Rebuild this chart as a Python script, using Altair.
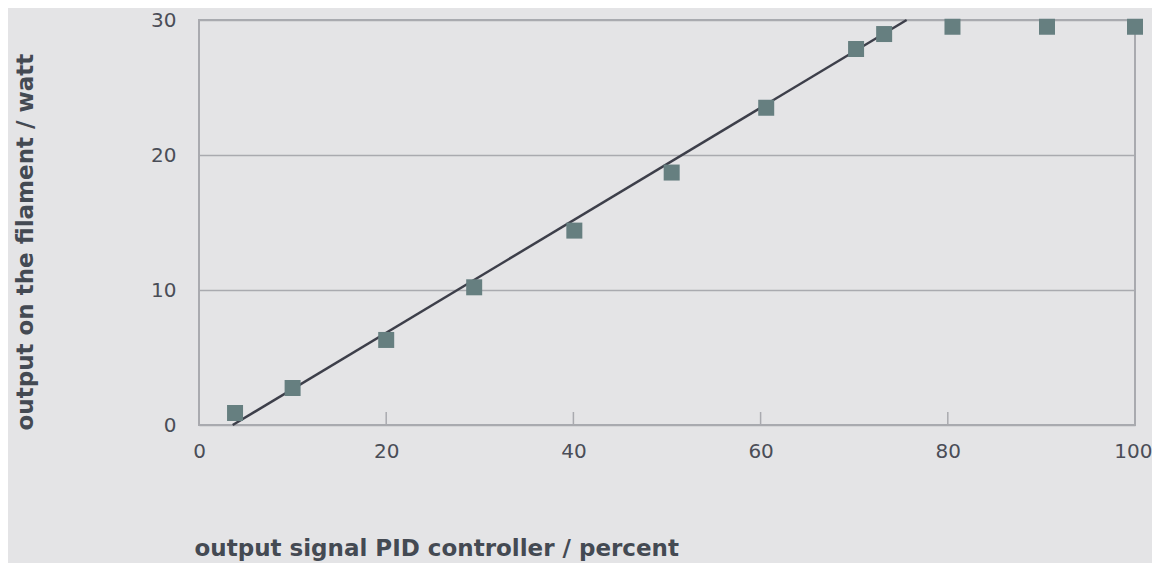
import altair as alt
import pandas as pd

# measured points
signal_pct = [3.85, 10.0, 20.0, 29.4, 40.1, 50.5, 60.6, 70.2, 73.2, 80.5, 90.6, 100.0]
power_watt = [0.89, 2.74, 6.3, 10.2, 14.4, 18.7, 23.5, 27.85, 28.96, 29.5, 29.5, 29.5]

# linear fit line endpoints
fit_x = [3.6, 75.6]
fit_y = [0.0, 30.0]

x_ticks = [0, 20, 40, 60, 80, 100]
inner_ticks = [20, 40, 60, 80]
y_ticks = [0, 10, 20, 30]

W, H = 936, 405
BG = "#e4e4e6"
GRID = "#a9aaaf"
LABEL = "#4a4d57"
TFONT = "DejaVu Sans"

pts = pd.DataFrame({"x": signal_pct, "y": power_watt})
fit = pd.DataFrame({"x": fit_x, "y": fit_y})
tk = pd.DataFrame({"x": inner_ticks})

xscale = alt.Scale(domain=[0, 100], nice=False)
yscale = alt.Scale(domain=[0, 30], nice=False)

xaxis = alt.Axis(values=x_ticks, grid=False, ticks=False, domain=False,
                 labelPadding=16, labelFontSize=20, labelColor=LABEL, labelFont=TFONT,
                 labelFlush=False,
                 labelAlign=alt.expr("datum.value == 100 ? 'right' : 'center'"),
                 labelOffset=alt.expr("datum.value == 100 ? 17 : 0"),
                 title="output signal PID controller / percent",
                 titleFont=TFONT, titleFontSize=23, titleFontWeight="bold",
                 titleColor="#444a53", titleAnchor="start", titleAlign="left",
                 titleBaseline="alphabetic", titleX=-5, titleY=130)
yaxis = alt.Axis(values=y_ticks, grid=True, gridColor=GRID, gridWidth=1.5,
                 ticks=False, domain=False, labelPadding=23, labelFontSize=20,
                 labelColor=LABEL, labelFont=TFONT, labelFlush=False,
                 title="output on the filament / watt",
                 titleFont=TFONT, titleFontSize=23, titleFontWeight="bold",
                 titleColor="#444a53", titleAngle=-90, titleAlign="left",
                 titleBaseline="alphabetic", titleX=-167, titleY=410)

ticks_layer = alt.Chart(tk).mark_rule(color=GRID, strokeWidth=1.5).encode(
    x=alt.X("x:Q", scale=xscale, axis=xaxis),
    y=alt.value(H - 13), y2=alt.value(H))

line = alt.Chart(fit).mark_line(color="#3d3f4a", strokeWidth=2.5).encode(
    x=alt.X("x:Q", scale=xscale, axis=xaxis),
    y=alt.Y("y:Q", scale=yscale, axis=yaxis))

points = alt.Chart(pts).mark_square(color="#667f80", size=256, opacity=1, filled=True).encode(
    x=alt.X("x:Q", scale=xscale, axis=xaxis),
    y=alt.Y("y:Q", scale=yscale, axis=yaxis))

chart = alt.layer(ticks_layer, line, points).properties(
    width=W, height=H,
    autosize=alt.AutoSizeParams(type="none"),
    padding={"left": 191, "top": 12, "right": 17, "bottom": 138},
    background=BG,
).configure_view(stroke=GRID, strokeWidth=2)

chart.save("out.html", embed_options={"renderer": "svg", "actions": False})
